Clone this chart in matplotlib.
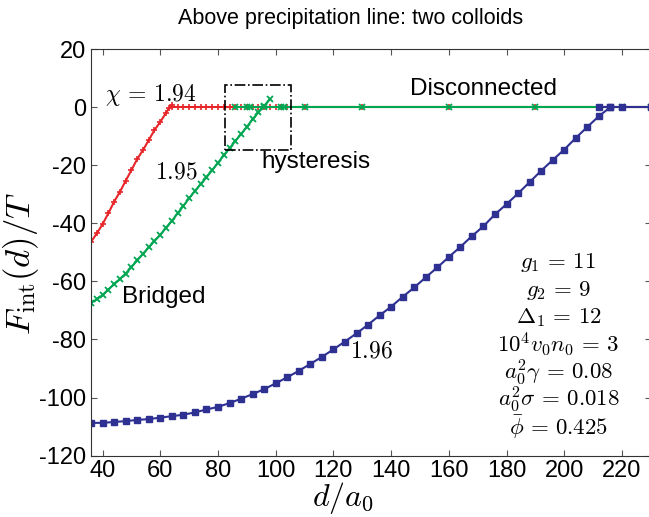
import matplotlib.pyplot as plt
from matplotlib.patches import Rectangle

plt.rcParams["mathtext.fontset"] = "cm"
plt.rcParams["font.family"] = ["Liberation Sans", "DejaVu Sans"]
plt.rcParams["axes.unicode_minus"] = False

# chi = 1.94 (red)
red_bridged_x = [36, 38, 40, 42, 44, 46, 48, 50, 52, 54, 56, 58, 60, 62, 63, 64]
red_bridged_y = [-46.4, -43.5, -40.3, -36.6, -32.6, -29.2, -25.4, -21.7, -17.9,
                 -14.8, -11.4, -7.9, -5.1, -2.0, -0.4, 0.6]
red_disc_x = [64, 66, 68, 70, 72, 74, 76, 78, 80, 82, 84, 86, 88, 90, 92, 94, 96,
              98, 100, 102, 104, 110, 130, 160, 190, 220, 230]
red_disc_y = [0.0] * len(red_disc_x)

# chi = 1.95 (green)
green_bridged_x = [36, 38, 40, 42, 44, 46, 48, 50, 52, 54, 56, 58, 60, 62, 64, 66,
                   68, 70, 72, 74, 76, 78, 80, 82, 84, 86, 88, 90, 92, 94, 96, 98]
green_bridged_y = [-67.4, -66.2, -64.7, -62.8, -61.0, -59.2, -57.3, -55.1, -52.8,
                   -50.5, -48.3, -46.1, -44.0, -41.5, -39.2, -36.6, -34.0, -31.4,
                   -28.9, -26.5, -24.2, -21.7, -19.2, -16.6, -14.2, -11.7, -9.3,
                   -6.8, -4.2, -1.8, 0.4, 2.7]
green_disc_x = [86, 90, 91, 96, 102, 103, 110, 130, 160, 190, 220, 230]
green_disc_y = [0.0] * len(green_disc_x)

# chi = 1.96 (blue)
blue_bridged_x = [36, 40, 44, 48, 52, 56, 60, 64, 68, 72, 76, 80, 84, 88, 92, 96,
                  100, 104, 108, 112, 116, 120, 124, 128, 132, 136, 140, 144, 148,
                  152, 156, 160, 164, 168, 172, 176, 180, 184, 188, 192, 196, 200,
                  204, 208, 212, 216]
blue_bridged_y = [-108.7, -108.7, -108.4, -108.1, -107.7, -107.4, -106.9, -106.4,
                  -105.9, -105.1, -104.1, -103.2, -101.9, -100.4, -98.8, -97.1,
                  -95.1, -93.0, -90.8, -88.4, -86.0, -83.4, -80.7, -77.9, -74.9,
                  -71.7, -68.7, -65.3, -62.1, -58.6, -55.2, -51.6, -48.1, -44.4,
                  -41.0, -36.9, -33.4, -29.7, -25.8, -21.9, -18.2, -14.6, -10.6,
                  -6.8, -3.1, 0.0]
blue_disc_x = [212, 216, 220, 230]
blue_disc_y = [0.0] * len(blue_disc_x)

red = "#e8262a"
green = "#00a651"
blue = "#2e3192"

fig = plt.figure(figsize=(6.49, 5.17), dpi=100)
ax = fig.add_axes([0.1402, 0.1186, 0.8627, 0.7866])

ax.plot(red_bridged_x, red_bridged_y, color=red, lw=1.5, marker="+", ms=5, mew=1.2)
ax.plot(red_disc_x, red_disc_y, color=red, lw=1.5, marker="+", ms=5, mew=1.2)
ax.plot(green_bridged_x, green_bridged_y, color=green, lw=1.5, marker="x", ms=4.5, mew=1.3)
ax.plot(green_disc_x, green_disc_y, color=green, lw=1.5, marker="x", ms=4.5, mew=1.3)
ax.plot(blue_bridged_x, blue_bridged_y, color=blue, lw=1.5, marker="s", ms=4)
ax.plot(blue_disc_x, blue_disc_y, color=blue, lw=1.5, marker="s", ms=4)

# hysteresis box
ax.add_patch(Rectangle((82.6, -14.8), 22.6, 22.4, fill=False, ls="-.",
                       lw=1.2, ec="black", zorder=5))

ax.set_xlim(36, 230)
ax.set_ylim(-120, 20)
ax.set_xticks([40, 60, 80, 100, 120, 140, 160, 180, 200, 220])
ax.set_yticks([-120, -100, -80, -60, -40, -20, 0, 20])
ax.tick_params(direction="in", top=True, right=True, length=4, labelsize=17,
               color="#555555")
ax.tick_params(axis="x", pad=3)
for s in ax.spines.values():
    s.set_color("#333333")

ax.text(40.8, 4.1, r"$\chi\,=\,1.94$", fontsize=17, va="center", ha="left")
ax.text(58.1, -22.4, r"$1.95$", fontsize=17, va="center", ha="left")
ax.text(125.7, -84.3, r"$1.96$", fontsize=17, va="center", ha="left")
ax.text(146.6, 6.3, "Disconnected", fontsize=17.5, va="center", ha="left")
ax.text(95.2, -19.0, "hysteresis", fontsize=17.5, va="center", ha="left")
ax.text(46.7, -65.4, "Bridged", fontsize=17.5, va="center", ha="left")

params = [r"$g_1\,=\,11$", r"$g_2\,=\,9$", r"$\Delta_1\,=\,12$",
          r"$10^4 v_0 n_0\,=\,3$", r"$a_0^2 \gamma\,=\,0.08$",
          r"$a_0^2 \sigma\,=\,0.018$", r"$\bar{\phi}\,=\,0.425$"]
for i, p in enumerate(params):
    ax.text(0.835, 0.474 - i * 0.0675, p, transform=ax.transAxes, fontsize=16.5,
            ha="center", va="center")

fig.text(0.528, 0.037, r"$d/a_0$", fontsize=23, ha="center", va="center")
fig.text(0.033, 0.491, r"$F_{\rm int}(d)/T$", fontsize=25, ha="center",
         va="center", rotation=90)
fig.text(0.54, 0.965, "Above precipitation line: two colloids", fontsize=15.5,
         ha="center", va="center")

fig.savefig("out.png", dpi=100)
